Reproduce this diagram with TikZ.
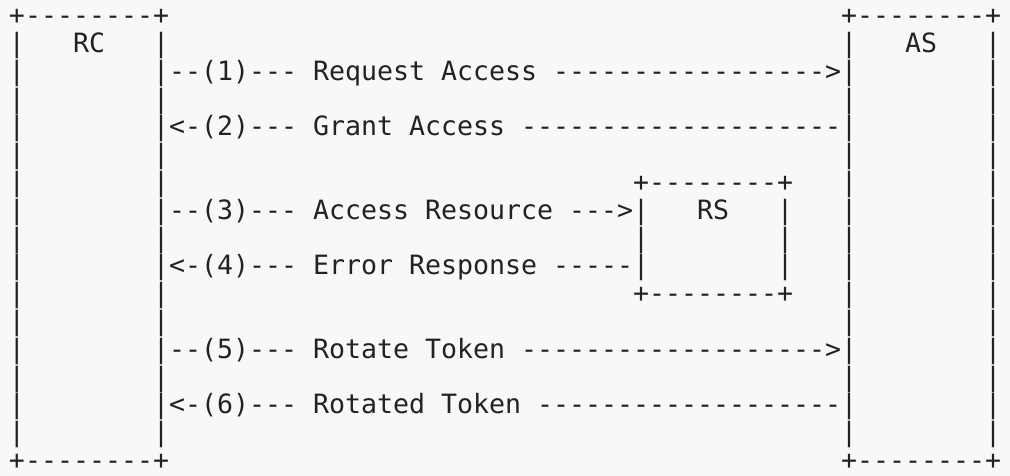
\documentclass[tikz,border=0pt]{standalone}
\usepackage{fontspec}
\setmonofont{DejaVu Sans Mono}
\definecolor{bgcol}{HTML}{F8F8F8}
\definecolor{ink}{HTML}{222222}
\tikzset{
  txt/.style={anchor=base west, inner sep=0pt, outer sep=0pt, text=ink,
    font=\ttfamily\frenchspacing\fontsize{26.58pt}{28pt}\selectfont}
}
% #1 name, #2 column, #3 row, #4 text
\newcommand\seg[4]{\node[txt] (#1) at ({9pt+#2*16pt},{-24.8pt-#3*27.79pt}) {#4};}
\begin{document}
\begin{tikzpicture}
\useasboundingbox (0,0) rectangle (1010pt,-476pt);
\fill[bgcol] (0,0) rectangle (1010pt,-476pt);
% top edges
\seg{rctop}{0}{0}{+--------+}
\seg{astop}{52}{0}{+--------+}
% labels row
\seg{rcl1}{0}{1}{|}
\seg{rc}{4}{1}{RC}
\seg{rcr1}{9}{1}{|}
\seg{asl1}{52}{1}{|}
\seg{as}{56}{1}{AS}
\seg{asr1}{61}{1}{|}
% outer left/right bars rows 2..15
\foreach \r in {2,...,15}{
  \seg{rcl\r}{0}{\r}{|}
  \seg{asr\r}{61}{\r}{|}
}
% RC right / AS left bars on rows without messages
\foreach \r in {3,5,6,8,10,11,13,15}{
  \seg{rcr\r}{9}{\r}{|}
  \seg{asl\r}{52}{\r}{|}
}
% messages
\seg{m1}{9}{2}{|--(1)--- Request Access ----------------->|}
\seg{m2}{9}{4}{|<-(2)--- Grant Access --------------------|}
\seg{m3}{9}{7}{|--(3)--- Access Resource --->|}
\seg{m4}{9}{9}{|<-(4)--- Error Response -----|}
\seg{m5}{9}{12}{|--(5)--- Rotate Token ------------------->|}
\seg{m6}{9}{14}{|<-(6)--- Rotated Token -------------------|}
% AS left bars on rows 7,9
\seg{asl7}{52}{7}{|}
\seg{asl9}{52}{9}{|}
% RS box
\seg{rstop}{39}{6}{+--------+}
\seg{rs}{43}{7}{RS}
\seg{rsr7}{48}{7}{|}
\seg{rsl8}{39}{8}{|}
\seg{rsr8}{48}{8}{|}
\seg{rsr9}{48}{9}{|}
\seg{rsbot}{39}{10}{+--------+}
% bottom edges
\seg{rcbot}{0}{16}{+--------+}
\seg{asbot}{52}{16}{+--------+}
\end{tikzpicture}
\end{document}
